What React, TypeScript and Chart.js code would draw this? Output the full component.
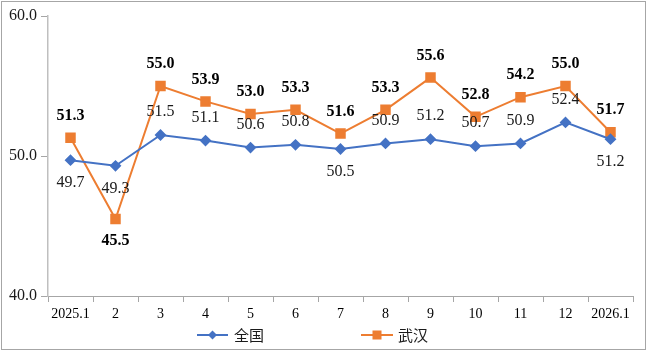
import React, { useEffect, useRef } from "react";
import { Chart, registerables } from "chart.js";

Chart.register(...registerables);

const categories = ["2025.1", "2", "3", "4", "5", "6", "7", "8", "9", "10", "11", "12", "2026.1"];
const nationalValues = [49.7, 49.3, 51.5, 51.1, 50.6, 50.8, 50.5, 50.9, 51.2, 50.7, 50.9, 52.4, 51.2];
const wuhanValues = [51.3, 45.5, 55.0, 53.9, 53.0, 53.3, 51.6, 53.3, 55.6, 52.8, 54.2, 55.0, 51.7];
// label placement: true = below the point
const nationalBelow = [true, true, false, false, false, false, true, false, false, false, false, false, true];
const wuhanBelow = [false, true, false, false, false, false, false, false, false, false, false, false, false];
const seriesNames = ["全国", "武汉"];
const yTicks = [40, 50, 60];

const SERIF = '"Liberation Serif", "Times New Roman", "Noto Sans CJK SC", serif';

const frameAndLabels = {
  id: "frameAndLabels",
  beforeDraw(chart: any) {
    const ctx = chart.ctx;
    ctx.save();
    ctx.fillStyle = "#ffffff";
    ctx.fillRect(0, 0, chart.width, chart.height);
    ctx.strokeStyle = "#a6a6a6";
    ctx.lineWidth = 1;
    ctx.strokeRect(1.5, 1.5, 644, 348);
    ctx.restore();
  },
  afterDatasetsDraw(chart: any) {
    const ctx = chart.ctx;
    ctx.save();
    ctx.textAlign = "center";
    ctx.textBaseline = "middle";
    const cfg = [
      { below: nationalBelow, font: `16px ${SERIF}`, color: "#1a1a1a", off: 23 },
      { below: wuhanBelow, font: `bold 16px ${SERIF}`, color: "#000000", off: 22 },
    ];
    chart.data.datasets.forEach((ds: any, di: number) => {
      const meta = chart.getDatasetMeta(di);
      const c = cfg[di];
      ctx.font = c.font;
      ctx.fillStyle = c.color;
      meta.data.forEach((pt: any, i: number) => {
        const v = ds.data[i] as number;
        const y = c.below[i] ? pt.y + c.off : pt.y - c.off;
        ctx.fillText(v.toFixed(1), pt.x, y);
      });
    });
    ctx.restore();
  },
  afterDraw(chart: any) {
    const ctx = chart.ctx;
    ctx.save();
    const items = [
      { x0: 197, x1: 228, tx: 234 },
      { x0: 361, x1: 393, tx: 398 },
    ];
    const y = 335;
    chart.data.datasets.forEach((ds: any, di: number) => {
      const it = items[di];
      ctx.strokeStyle = ds.borderColor;
      ctx.lineWidth = 2;
      ctx.beginPath();
      ctx.moveTo(it.x0, y);
      ctx.lineTo(it.x1, y);
      ctx.stroke();
      ctx.fillStyle = ds.pointBackgroundColor;
      const cx = (it.x0 + it.x1) / 2;
      if (ds.pointStyle === "rect") {
        ctx.fillRect(cx - 4.5, y - 4.5, 9, 9);
      } else {
        ctx.beginPath();
        ctx.moveTo(cx, y - 4.5);
        ctx.lineTo(cx + 4.5, y);
        ctx.lineTo(cx, y + 4.5);
        ctx.lineTo(cx - 4.5, y);
        ctx.closePath();
        ctx.fill();
      }
      ctx.fillStyle = "#1a1a1a";
      ctx.font = `15px "Noto Sans CJK SC", ${SERIF}`;
      ctx.textAlign = "left";
      ctx.textBaseline = "middle";
      ctx.fillText(ds.label, it.tx, y);
    });
    ctx.restore();
  },
};

export default function App() {
  const ref = useRef<HTMLCanvasElement | null>(null);
  useEffect(() => {
    if (!ref.current) return;
    const chart = new Chart(ref.current, {
      type: "line",
      data: {
        labels: categories,
        datasets: [
          {
            label: seriesNames[0],
            data: nationalValues,
            borderColor: "#4472c4",
            backgroundColor: "#4472c4",
            pointBackgroundColor: "#4472c4",
            pointBorderColor: "#4472c4",
            pointStyle: "rectRot",
            pointRadius: 4.5,
            borderWidth: 2,
            tension: 0,
          },
          {
            label: seriesNames[1],
            data: wuhanValues,
            borderColor: "#ed7d31",
            backgroundColor: "#ed7d31",
            pointBackgroundColor: "#ed7d31",
            pointBorderColor: "#ed7d31",
            pointStyle: "rect",
            pointRadius: 6,
            borderWidth: 2,
            tension: 0,
          },
        ],
      },
      options: {
        responsive: false,
        animation: false,
        layout: { padding: { top: 16, right: 17, left: 0, bottom: 0 } },
        plugins: {
          legend: { display: false },
          tooltip: { enabled: false },
        },
        scales: {
          x: {
            offset: true,
            afterFit: (s: any) => {
              s.height = 56;
            },
            grid: {
              offset: true,
              drawOnChartArea: false,
              drawTicks: true,
              tickLength: 6,
              color: "#a6a6a6",
            },
            border: { color: "#a6a6a6", width: 1 },
            ticks: {
              color: "#000000",
              font: { family: SERIF, size: 14 },
              padding: 4,
              maxRotation: 0,
              autoSkip: false,
            },
          },
          y: {
            min: 40,
            max: 60,
            afterFit: (s: any) => {
              s.width = 48;
            },
            afterBuildTicks: (s: any) => {
              s.ticks = yTicks.map((v) => ({ value: v }));
            },
            grid: {
              drawOnChartArea: false,
              drawTicks: true,
              tickLength: 7,
              color: "#a6a6a6",
            },
            border: { color: "#bfbfbf", width: 1.5 },
            ticks: {
              color: "#1a1a1a",
              font: { family: SERIF, size: 16 },
              padding: 4,
              callback: (v: any) => Number(v).toFixed(1),
            },
          },
        },
      },
      plugins: [frameAndLabels],
    });
    return () => chart.destroy();
  }, []);
  return (
    <div style={{ position: "absolute", left: 0, top: 0, width: 650, height: 352, background: "#fff" }}>
      <canvas ref={ref} width={650} height={352} style={{ width: 650, height: 352, display: "block" }} />
    </div>
  );
}
